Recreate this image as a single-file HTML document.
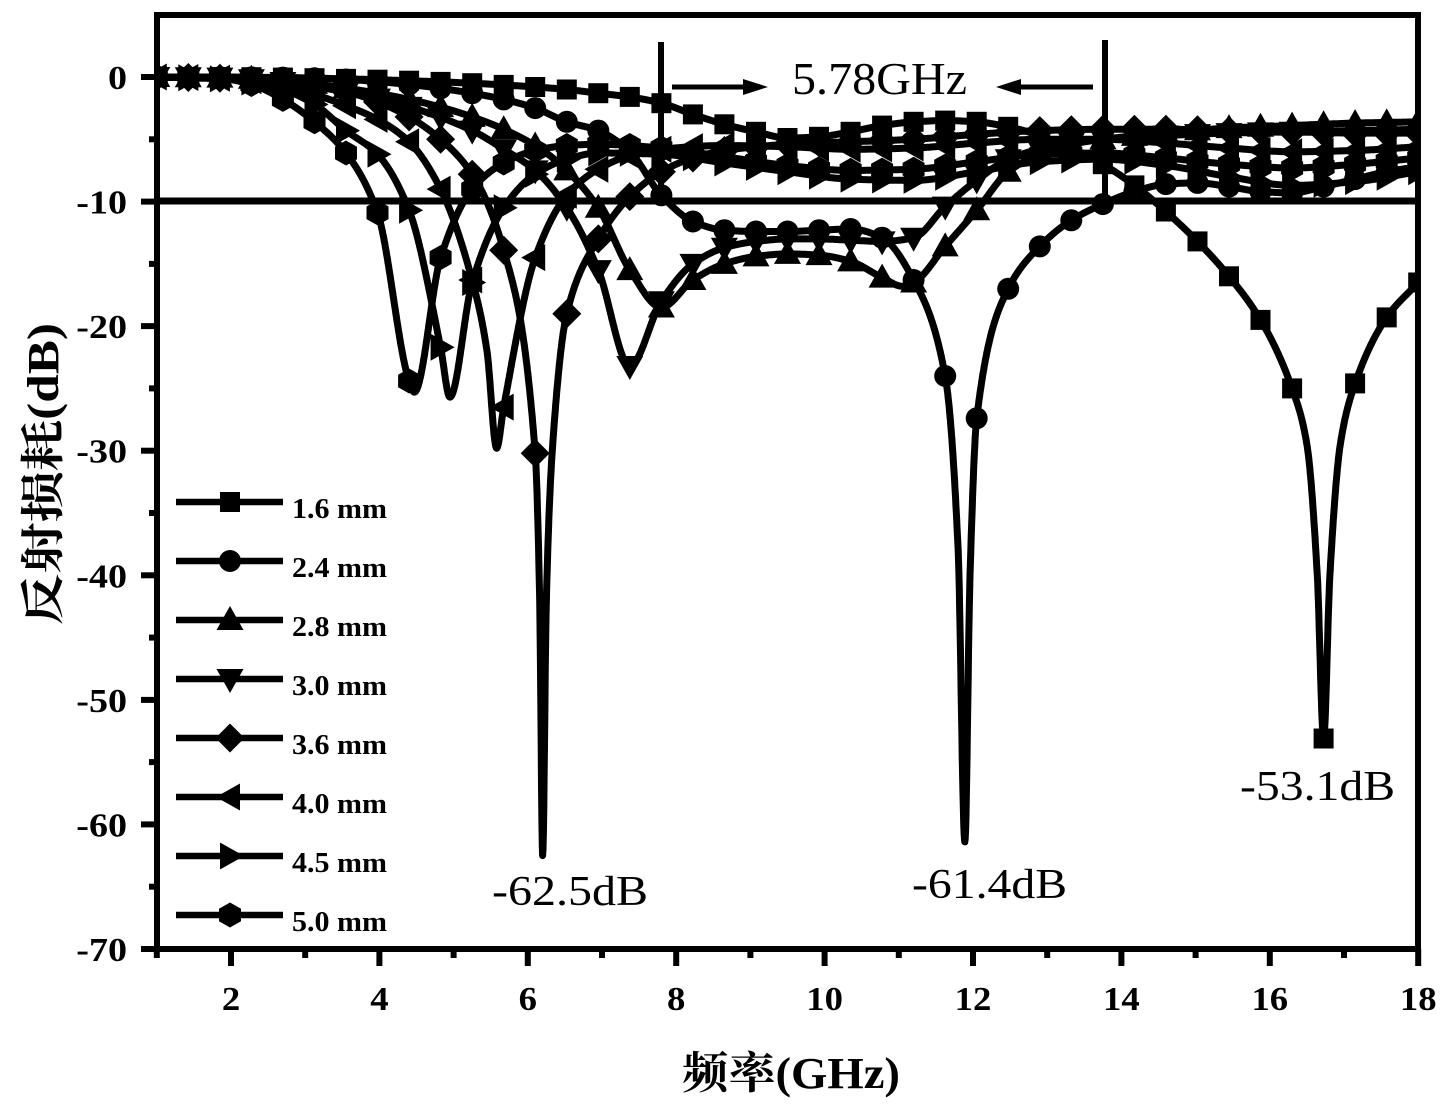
<!DOCTYPE html>
<html>
<head>
<meta charset="utf-8">
<style>
  html,body{margin:0;padding:0;background:#fff;}
  svg{display:block;}
</style>
</head>
<body>
<svg id="chart" width="1451" height="1109" viewBox="0 0 1451 1109" xmlns="http://www.w3.org/2000/svg">
  <rect x="0" y="0" width="1451" height="1109" fill="#fff"/>
  <defs>
    <clipPath id="plotclip"><rect x="157" y="15" width="1261" height="934"/></clipPath>
  </defs>

  <!-- curves generated by script -->
  <g id="curves" clip-path="url(#plotclip)"></g>

  <!-- -10 dB reference line -->
  <line x1="157" y1="201" x2="1418" y2="201" stroke="#000" stroke-width="7"/>

  <!-- frame -->
  <rect x="157" y="15" width="1261" height="934" fill="none" stroke="#000" stroke-width="6"/>

  <!-- ticks -->
  <g id="ticks" stroke="#000" stroke-width="6"></g>

  <!-- Y tick labels -->
  <g font-family="'Liberation Serif', serif" font-weight="bold" font-size="34" fill="#000" text-anchor="end">
    <text transform="translate(127,89) scale(1.12,1)">0</text>
    <text transform="translate(127,213.6) scale(1.12,1)">-10</text>
    <text transform="translate(127,338.1) scale(1.12,1)">-20</text>
    <text transform="translate(127,462.7) scale(1.12,1)">-30</text>
    <text transform="translate(127,587.3) scale(1.12,1)">-40</text>
    <text transform="translate(127,711.8) scale(1.12,1)">-50</text>
    <text transform="translate(127,836.4) scale(1.12,1)">-60</text>
    <text transform="translate(127,961) scale(1.12,1)">-70</text>
  </g>

  <!-- X tick labels -->
  <g font-family="'Liberation Serif', serif" font-weight="bold" font-size="34" fill="#000" text-anchor="middle">
    <text transform="translate(231,1010) scale(1.08,1)">2</text>
    <text transform="translate(379.4,1010) scale(1.08,1)">4</text>
    <text transform="translate(527.8,1010) scale(1.08,1)">6</text>
    <text transform="translate(676.2,1010) scale(1.08,1)">8</text>
    <text transform="translate(824.6,1010) scale(1.08,1)">10</text>
    <text transform="translate(973,1010) scale(1.08,1)">12</text>
    <text transform="translate(1121.4,1010) scale(1.08,1)">14</text>
    <text transform="translate(1269.8,1010) scale(1.08,1)">16</text>
    <text transform="translate(1418.2,1010) scale(1.08,1)">18</text>
  </g>

  <!-- axis titles -->
  <text x="682" y="1088" font-family="'Liberation Serif', 'Noto Serif CJK SC', serif" font-weight="bold" font-size="44" fill="#000" textLength="218" lengthAdjust="spacingAndGlyphs">频率(GHz)</text>
  <text transform="translate(58,625) rotate(-90)" font-family="'Liberation Serif', 'Noto Serif CJK SC', serif" font-weight="bold" font-size="44" fill="#000" textLength="302" lengthAdjust="spacingAndGlyphs">反射损耗(dB)</text>

  <!-- bandwidth annotation -->
  <line x1="661" y1="42" x2="661" y2="200" stroke="#000" stroke-width="6"/>
  <line x1="1105" y1="40" x2="1105" y2="205" stroke="#000" stroke-width="6"/>
  <line x1="672" y1="87" x2="748" y2="87" stroke="#000" stroke-width="5"/>
  <polygon points="768,87 743,79 743,95" fill="#000"/>
  <line x1="1017" y1="87" x2="1093" y2="87" stroke="#000" stroke-width="5"/>
  <polygon points="996,87 1021,79 1021,95" fill="#000"/>
  <text x="792" y="94" font-family="'Liberation Serif', serif" font-size="46" fill="#000" textLength="175" lengthAdjust="spacingAndGlyphs">5.78GHz</text>

  <!-- dip annotations -->
  <g font-family="'Liberation Serif', serif" font-size="42" fill="#000">
    <text x="492" y="905" textLength="156" lengthAdjust="spacingAndGlyphs">-62.5dB</text>
    <text x="912" y="898" textLength="155" lengthAdjust="spacingAndGlyphs">-61.4dB</text>
    <text x="1240" y="800" textLength="155" lengthAdjust="spacingAndGlyphs">-53.1dB</text>
  </g>

  <!-- legend -->
  <g id="legend"></g>
  <g font-family="'Liberation Serif', serif" font-weight="bold" font-size="28" fill="#000">
    <text x="292" y="518" textLength="95" lengthAdjust="spacingAndGlyphs">1.6 mm</text>
    <text x="292" y="577" textLength="95" lengthAdjust="spacingAndGlyphs">2.4 mm</text>
    <text x="292" y="636" textLength="95" lengthAdjust="spacingAndGlyphs">2.8 mm</text>
    <text x="292" y="695" textLength="95" lengthAdjust="spacingAndGlyphs">3.0 mm</text>
    <text x="292" y="754" textLength="95" lengthAdjust="spacingAndGlyphs">3.6 mm</text>
    <text x="292" y="813" textLength="95" lengthAdjust="spacingAndGlyphs">4.0 mm</text>
    <text x="292" y="872" textLength="95" lengthAdjust="spacingAndGlyphs">4.5 mm</text>
    <text x="292" y="931" textLength="95" lengthAdjust="spacingAndGlyphs">5.0 mm</text>
  </g>
</svg>

<script>
(function(){
  var X = function(f){ return 156.8 + (f-1)*74.2; };
  var Y = function(d){ return 77 - d*12.457; };

  function mono(pts){
    var n=pts.length, xs=[], ys=[], h=[], m=[], t=[], i;
    for(i=0;i<n;i++){xs.push(pts[i][0]); ys.push(pts[i][1]);}
    for(i=0;i<n-1;i++){h[i]=xs[i+1]-xs[i]; m[i]=(ys[i+1]-ys[i])/h[i];}
    t[0]=m[0]; t[n-1]=m[n-2];
    for(i=1;i<n-1;i++){
      if(m[i-1]*m[i]<=0){ t[i]=0; }
      else {
        var w1=2*h[i]+h[i-1], w2=h[i]+2*h[i-1];
        t[i]=(w1+w2)/(w1/m[i-1]+w2/m[i]);
      }
    }
    return function(x){
      var k=0;
      while(k<n-2 && x>xs[k+1]) k++;
      var hh=h[k], s=(x-xs[k])/hh, s2=s*s, s3=s2*s;
      return (2*s3-3*s2+1)*ys[k] + (s3-2*s2+s)*hh*t[k] + (-2*s3+3*s2)*ys[k+1] + (s3-s2)*hh*t[k+1];
    };
  }

  function marker(type, cx, cy){
    var p=function(a){ return a.map(function(q){return (cx+q[0]).toFixed(1)+','+(cy+q[1]).toFixed(1);}).join(' '); };
    switch(type){
      case 'sq': return '<rect x="'+(cx-10).toFixed(1)+'" y="'+(cy-10).toFixed(1)+'" width="20" height="20"/>';
      case 'ci': return '<circle cx="'+cx.toFixed(1)+'" cy="'+cy.toFixed(1)+'" r="11"/>';
      case 'tu': return '<polygon points="'+p([[0,-14],[13.5,10],[-13.5,10]])+'"/>';
      case 'td': return '<polygon points="'+p([[0,14],[13.5,-10],[-13.5,-10]])+'"/>';
      case 'di': return '<polygon points="'+p([[0,-14.5],[14.5,0],[0,14.5],[-14.5,0]])+'"/>';
      case 'tl': return '<polygon points="'+p([[-14,0],[10,-13.5],[10,13.5]])+'"/>';
      case 'tr': return '<polygon points="'+p([[14,0],[-10,-13.5],[-10,13.5]])+'"/>';
      case 'hx': return '<polygon points="'+p([[0,-12.5],[11,-6.3],[11,6.3],[0,12.5],[-11,6.3],[-11,-6.3]])+'"/>';
    }
    return '';
  }

  var S = [
    ['sq', [[1,0],[1.85,0],[2.7,-0.05],[3.55,-0.15],[4.4,-0.3],[5.25,-0.5],[6.1,-0.8],[6.525,-1.0],[6.95,-1.3],[7.375,-1.6],[7.8,-2.1],[8.225,-3.0],[8.65,-3.8],[9.075,-4.4],[9.5,-4.9],[9.925,-4.8],[10.35,-4.4],[10.775,-3.9],[11.2,-3.6],[11.625,-3.5],[12.05,-3.6],[12.475,-4.0],[12.9,-4.7],[13.325,-5.7],[13.75,-7.0],[14.175,-8.7],[14.6,-10.8],[15.025,-13.2],[15.45,-16],[15.875,-19.5],[16.3,-25],[16.5,-29.5],[16.64,-40],[16.725,-53.1],[16.81,-40],[16.95,-29.5],[17.15,-24.6],[17.575,-19.3],[18,-16.5]]],
    ['ci', [[1,0],[2.7,-0.05],[3.55,-0.2],[4.4,-0.6],[5.25,-1.3],[5.675,-1.8],[6.1,-2.5],[6.525,-3.6],[6.95,-4.3],[7.375,-6.0],[7.8,-9.5],[8.225,-11.6],[8.65,-12.3],[9.075,-12.4],[9.5,-12.4],[9.925,-12.3],[10.35,-12.2],[10.775,-12.9],[11.2,-16.3],[11.625,-24],[11.8,-38],[11.89,-61.4],[11.96,-40],[12.05,-27.4],[12.475,-17],[12.9,-13.6],[13.325,-11.5],[13.75,-10.2],[14.175,-9.2],[14.6,-8.6],[15.025,-8.5],[15.45,-8.8],[15.875,-9.2],[16.3,-9.3],[16.725,-8.8],[17.15,-8.2],[17.575,-7.6],[18,-7.2]]],
    ['tu', [[1,0],[1.85,-0.05],[2.7,-0.3],[3.55,-0.9],[4.4,-1.8],[5.25,-3.2],[6.1,-5.5],[6.525,-7.5],[6.95,-10.5],[7.375,-15.5],[7.8,-18.5],[8.225,-16.3],[8.65,-15],[9.075,-14.4],[9.5,-14.2],[9.925,-14.3],[10.35,-14.8],[10.775,-16.1],[11.05,-16.8],[11.2,-16.5],[11.625,-13.6],[12.05,-10.7],[12.475,-7.6],[12.9,-6.2],[13.325,-5.4],[13.75,-5.0],[14.6,-4.5],[15.45,-4.1],[16.3,-3.9],[17.15,-3.7],[18,-3.6]]],
    ['td', [[1,0],[1.85,-0.05],[2.7,-0.4],[3.55,-1.2],[4.4,-2.4],[5.25,-4.3],[5.675,-5.8],[6.1,-7.5],[6.525,-10.5],[6.95,-15.5],[7.375,-23.2],[7.8,-18],[8.225,-15],[8.65,-13.7],[9.075,-13.2],[9.5,-13],[9.925,-13],[10.35,-13.1],[10.775,-13.2],[11.2,-12.9],[11.625,-10.4],[12.05,-8.3],[12.475,-6.6],[12.9,-5.8],[13.325,-5.3],[13.75,-5.0],[14.6,-4.7],[15.45,-4.5],[16.3,-4.4],[17.15,-4.3],[18,-4.2]]],
    ['di', [[1,0],[1.85,-0.1],[2.7,-0.5],[3.55,-1.2],[3.975,-2.0],[4.4,-3.2],[4.825,-5],[5.25,-7.8],[5.675,-13.9],[6.1,-30.2],[6.16,-42],[6.2,-62.5],[6.25,-42],[6.33,-30],[6.525,-19],[6.95,-13],[7.375,-9.6],[7.8,-7.6],[8.225,-6.5],[8.65,-5.9],[9.075,-5.6],[9.5,-5.4],[10.35,-5.2],[11.2,-5.0],[12.05,-4.6],[12.9,-4.3],[13.75,-4.2],[14.6,-4.2],[15.45,-4.3],[16.3,-4.4],[17.15,-4.5],[18,-4.5]]],
    ['tl', [[1,0],[1.85,-0.1],[2.275,-0.3],[2.7,-0.7],[3.125,-1.4],[3.55,-2.3],[3.975,-3.4],[4.4,-5.2],[4.825,-9],[5.25,-16.3],[5.45,-22],[5.58,-29.8],[5.675,-26.5],[6.1,-14.5],[6.525,-9.5],[6.95,-7.4],[7.375,-6.3],[7.8,-5.8],[8.65,-5.5],[9.5,-5.6],[10.35,-5.8],[11.2,-5.7],[12.05,-5.3],[12.9,-5.0],[13.75,-5.0],[14.6,-5.3],[15.45,-5.7],[16.3,-6.0],[17.15,-5.9],[18,-5.6]]],
    ['tr', [[1,0],[1.85,-0.15],[2.275,-0.4],[2.7,-1.0],[3.125,-2.2],[3.55,-4.3],[3.975,-6.2],[4.4,-10.7],[4.825,-21.7],[4.95,-25.7],[5.25,-16.5],[5.675,-10.5],[6.1,-7.8],[6.525,-6.6],[6.95,-6.1],[7.8,-6.2],[8.65,-6.9],[9.5,-7.6],[10.35,-8.2],[11.2,-8.3],[12.05,-7.6],[12.9,-6.8],[13.75,-6.6],[14.6,-7.1],[15.45,-8.0],[16.3,-8.7],[17.15,-8.4],[18,-7.6]]],
    ['hx', [[1,0],[1.425,-0.05],[1.85,-0.1],[2.275,-0.6],[2.7,-1.8],[3.125,-3.6],[3.55,-6.1],[3.975,-10.9],[4.4,-24.4],[4.47,-25.3],[4.825,-14.5],[5.25,-9],[5.675,-6.9],[6.1,-5.9],[6.525,-5.5],[6.95,-5.4],[7.8,-5.7],[8.65,-6.4],[9.5,-7.1],[10.35,-7.5],[11.2,-7.4],[12.05,-6.8],[12.9,-6.2],[13.75,-6.1],[14.6,-6.5],[15.45,-7.0],[16.3,-7.3],[17.15,-7.0],[18,-6.5]]]
  ];

  var html = '';
  for(var s=0;s<S.length;s++){
    var fn = mono(S[s][1]);
    var d = '';
    for(var i=0;i<=3400;i++){
      var f = 1 + i*0.005;
      d += (i===0?'M':'L') + X(f).toFixed(1) + ' ' + Y(fn(f)).toFixed(1);
    }
    html += '<path d="'+d+'" fill="none" stroke="#000" stroke-width="7" stroke-linejoin="round"/>';
  }
  for(var s2=0;s2<S.length;s2++){
    var fn2 = mono(S[s2][1]);
    var mk = '';
    for(var k=0;k<=40;k++){
      var ff = 1 + k*0.425;
      if(ff>18) ff=18;
      mk += marker(S[s2][0], X(ff), Y(fn2(ff)));
    }
    html += '<g fill="#000">'+mk+'</g>';
  }
  document.getElementById('curves').innerHTML = html;

  // ticks
  var t = '';
  for(var dv=0; dv>=-70; dv-=10){
    var yy=Y(dv); t += '<line x1="141" y1="'+yy.toFixed(1)+'" x2="157" y2="'+yy.toFixed(1)+'"/>';
  }
  for(var dv2=-5; dv2>=-65; dv2-=10){
    var y2=Y(dv2); t += '<line x1="149" y1="'+y2.toFixed(1)+'" x2="157" y2="'+y2.toFixed(1)+'"/>';
  }
  for(var fx=2; fx<=18; fx+=2){
    var xx=X(fx); t += '<line x1="'+xx.toFixed(1)+'" y1="949" x2="'+xx.toFixed(1)+'" y2="966"/>';
  }
  for(var fx2=1; fx2<=17; fx2+=2){
    var x2=X(fx2); t += '<line x1="'+x2.toFixed(1)+'" y1="949" x2="'+x2.toFixed(1)+'" y2="958"/>';
  }
  document.getElementById('ticks').innerHTML = t;

  // legend
  var types=['sq','ci','tu','td','di','tl','tr','hx'];
  var lg='';
  for(var j=0;j<8;j++){
    var ly=502+j*59;
    lg += '<line x1="176" y1="'+ly+'" x2="283" y2="'+ly+'" stroke="#000" stroke-width="6.5"/>';
    lg += '<g fill="#000">'+marker(types[j],230,ly)+'</g>';
  }
  document.getElementById('legend').innerHTML = lg;
})();
</script>
</body>
</html>
